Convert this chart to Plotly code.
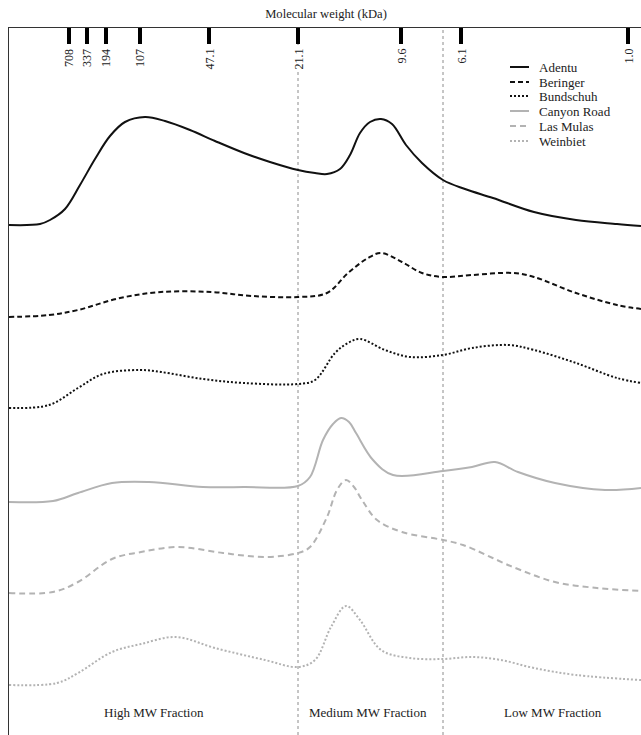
import plotly.graph_objects as go

# Size-exclusion chromatograms of six wines, stacked with vertical offsets.
# Elution position (arbitrary units) and detector signal (relative units).
samples = ["Adentu", "Beringer", "Bundschuh", "Canyon Road", "Las Mulas", "Weinbiet"]

adentu_pos = [0, 31, 41, 56, 71, 86, 101, 116, 136, 156, 181, 206, 235, 261, 289, 306,
              318, 331, 341, 351, 361, 372, 383, 397, 413, 434, 456, 484, 525, 567, 608, 632]
adentu_sig = [0, 1, 5, 16, 40, 66, 89, 103, 108, 104, 95, 84, 72, 63, 55, 52,
              51, 56, 70, 92, 103, 106, 101, 80, 62, 45, 36, 27, 13, 5, 1, -1]

beringer_pos = [0, 40, 69, 111, 152, 202, 243, 289, 318, 339, 359, 372, 393, 413, 434, 463,
                504, 525, 567, 608, 632]
beringer_sig = [0, 2, 7, 19, 25, 25, 21, 20, 24, 44, 59, 64, 55, 44, 40, 42,
                44, 40, 24, 12, 8]

bundschuh_pos = [0, 40, 69, 94, 131, 152, 194, 235, 289, 306, 326, 339, 351, 376, 401, 434,
                 463, 500, 525, 567, 608, 632]
bundschuh_sig = [0, 3, 20, 34, 38, 36, 29, 25, 24, 28, 55, 65, 69, 58, 51, 53,
                 60, 63, 58, 45, 30, 25]

canyon_pos = [0, 44, 69, 103, 140, 194, 235, 289, 301, 314, 324, 332, 340, 347, 364, 384,
              434, 463, 486, 509, 546, 596, 632]
canyon_sig = [0, 1, 9, 19, 20, 15, 15, 16, 25, 62, 78, 84, 80, 69, 42, 27,
              31, 35, 40, 30, 19, 12, 14]

mulas_pos = [0, 44, 69, 103, 132, 169, 214, 256, 289, 301, 318, 328, 337, 345, 353, 368,
             393, 434, 454, 504, 546, 588, 632]
mulas_sig = [0, 1, 11, 34, 41, 46, 40, 36, 40, 46, 76, 103, 113, 106, 93, 73,
             61, 53, 48, 26, 11, 5, 2]

weinbiet_pos = [0, 48, 69, 103, 132, 167, 206, 256, 289, 306, 322, 337, 351, 372, 401, 434,
                463, 492, 525, 567, 632]
weinbiet_sig = [0, 2, 12, 33, 41, 48, 37, 25, 18, 25, 58, 79, 65, 35, 27, 26,
                28, 25, 17, 10, 5]

# vertical offset applied to each chromatogram in the stack
offsets = [510, 418, 327, 233, 142, 50]

# molecular-weight calibration marks along the top axis
mw_positions = [60, 78, 97, 131, 200, 289, 392, 452, 619]
mw_labels = ["708", "337", "194", "107", "47.1", "21.1", "9.6", "6.1", "1.0"]

# fraction boundaries and fraction names
fraction_bounds = [289, 434]
fraction_centres = [145, 359, 544]
fraction_names = ["High MW Fraction", "Medium MW Fraction", "Low MW Fraction"]

positions = [adentu_pos, beringer_pos, bundschuh_pos, canyon_pos, mulas_pos, weinbiet_pos]
signals = [adentu_sig, beringer_sig, bundschuh_sig, canyon_sig, mulas_sig, weinbiet_sig]

BLACK = "#111111"
GREY = "#b3b3b3"
styles = [
    (BLACK, "solid"),
    (BLACK, "5px,3px"),
    (BLACK, "2px,2px"),
    (GREY, "solid"),
    (GREY, "6px,4px"),
    (GREY, "2px,2px"),
]
SERIF = "Liberation Serif, Times New Roman, serif"

fig = go.Figure()
for name, xs, ys, off, (col, dash) in zip(samples, positions, signals, offsets, styles):
    fig.add_trace(go.Scatter(
        x=xs, y=[v + off for v in ys], name=name, mode="lines",
        line=dict(color=col, width=2, dash=dash, shape="spline", smoothing=1.0),
        hoverinfo="skip",
    ))

shapes = []
for b in fraction_bounds:
    shapes.append(dict(type="line", xref="x", yref="paper", x0=b, x1=b, y0=0, y1=1,
                       line=dict(color="#8c8c8c", width=1, dash="3px,3px"), layer="below"))

annotations = []
for pos, lab in zip(mw_positions, mw_labels):
    annotations.append(dict(x=pos, y=687, xref="x", yref="y", text=lab, showarrow=False,
                            textangle=-90, xanchor="center", yanchor="top",
                            bgcolor="white", borderpad=0,
                            font=dict(family=SERIF, size=12, color="#222")))

for cx, lab in zip(fraction_centres, fraction_names):
    annotations.append(dict(x=cx, y=23, xref="x", yref="y", text=lab, showarrow=False,
                            xanchor="center", yanchor="middle",
                            font=dict(family=SERIF, size=13, color="#222")))

# key in the upper right corner
key_rows = [668, 653, 639, 624, 609, 594]
for name, row, (col, dash) in zip(samples, key_rows, styles):
    shapes.append(dict(type="line", xref="x", yref="y", x0=501, x1=520, y0=row, y1=row,
                       line=dict(color=col, width=2, dash=dash)))
    annotations.append(dict(x=528, y=row, xref="x", yref="y", text=name, showarrow=False,
                            xanchor="left", yanchor="middle",
                            font=dict(family=SERIF, size=13, color="#222")))

fig.update_layout(
    width=641, height=735,
    margin=dict(l=9, r=0, t=28, b=0),
    paper_bgcolor="white", plot_bgcolor="white",
    showlegend=False,
    title=dict(text="Molecular weight (kDa)", x=326 / 641, xanchor="center",
               y=1 - 14 / 735, yanchor="middle",
               font=dict(family=SERIF, size=12.6, color="#222")),
    xaxis=dict(range=[0, 632], side="top", showgrid=False, zeroline=False,
               showline=True, linecolor="#333", linewidth=1,
               tickmode="array", tickvals=mw_positions, ticks="inside",
               ticklen=16, tickwidth=4, tickcolor="black", showticklabels=False),
    yaxis=dict(range=[0, 707], showgrid=False, zeroline=False,
               showline=True, linecolor="#333", linewidth=1,
               ticks="", showticklabels=False),
    shapes=shapes,
    annotations=annotations,
)

fig.write_html("out.html")
